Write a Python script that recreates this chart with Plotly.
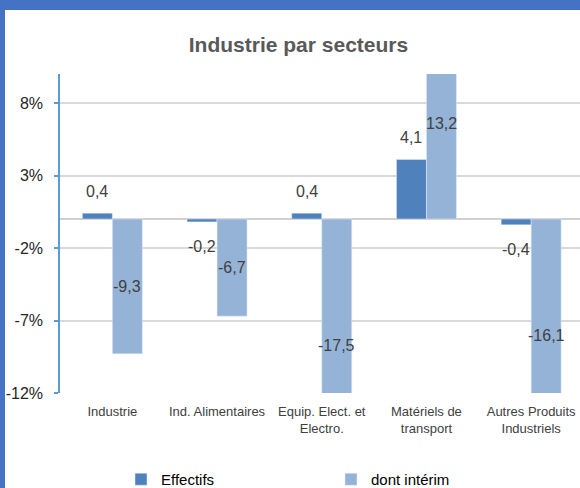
import plotly.graph_objects as go

categories = ["Industrie", "Ind. Alimentaires", "Equip. Elect. et<br>Electro.",
              "Matériels de<br>transport", "Autres Produits<br>Industriels"]
effectifs = [0.4, -0.2, 0.4, 4.1, -0.4]
interim = [-9.3, -6.7, -17.5, 13.2, -16.1]
tick_vals = [-12, -7, -2, 3, 8]
tick_text = ["-12%", "-7%", "-2%", "3%", "8%"]

C_EFF = "#4F81BD"
C_INT = "#95B3D7"
BORDER = "#4472C4"
TXT = "#404040"

W, H = 580, 488
ML, MR, MT, MB = 60, 0, 74, 95
PW, PH = W - ML - MR, H - MT - MB

def px_x(p):
    return (p - ML) / PW

def px_y(p):
    return (H - MB - p) / PH

xs = list(range(len(categories)))
half = 0.1433

fig = go.Figure()
fig.add_trace(go.Bar(x=xs, y=effectifs, name="Effectifs", marker_color=C_EFF))
fig.add_trace(go.Bar(x=xs, y=interim, name="dont intérim", marker_color=C_INT))

def fmt(v):
    return ("%.1f" % v).replace(".", ",")

ann = []
for i, v in enumerate(effectifs):
    ann.append(dict(x=i - half, y=v, xref="x", yref="y", text=fmt(v), showarrow=False,
                    yshift=22 if v >= 0 else -25, font=dict(size=16, color=TXT,
                    family="Liberation Sans, Arial, sans-serif")))
for i, v in enumerate(interim):
    ann.append(dict(x=i + half, y=v / 2, xref="x", yref="y", text=fmt(v), showarrow=False,
                    font=dict(size=16, color=TXT, family="Liberation Sans, Arial, sans-serif")))

shapes = [
    dict(type="rect", xref="paper", yref="paper", x0=px_x(0), x1=px_x(5), y0=px_y(H), y1=px_y(0),
         fillcolor=BORDER, line_width=0, layer="below"),
    dict(type="rect", xref="paper", yref="paper", x0=px_x(0), x1=px_x(W), y0=px_y(10), y1=px_y(0),
         fillcolor=BORDER, line_width=0, layer="below"),
]

fig.update_layout(
    width=W, height=H,
    margin=dict(l=ML, r=MR, t=MT, b=MB, autoexpand=False),
    paper_bgcolor="white", plot_bgcolor="white",
    font=dict(family="Liberation Sans, Arial, sans-serif", color=TXT),
    title=dict(text="<b>Industrie par secteurs</b>", x=298.5 / W, xanchor="center",
               y=1 - 45 / H, yanchor="middle", yref="container",
               font=dict(size=21, color="#595959")),
    barmode="group", bargap=0.427, bargroupgap=0,
    showlegend=True,
    legend=dict(orientation="h", x=px_x(121), xanchor="left", y=px_y(463), yanchor="top",
                entrywidth=165, font=dict(size=15, color="#000000"),
                bgcolor="rgba(0,0,0,0)"),
    annotations=ann, shapes=shapes,
)
fig.update_xaxes(tickvals=xs, ticktext=categories, range=[-0.5, -0.5 + PW / 104.7],
                 showgrid=False, zeroline=False, showline=False, ticks="",
                 tickfont=dict(size=13, color=TXT), ticklabelstandoff=9)
fig.update_yaxes(range=[-12, 10], tickvals=tick_vals, ticktext=tick_text,
                 showgrid=True, gridcolor="#D9D9D9", gridwidth=1.5,
                 zeroline=True, zerolinecolor="#D0D0D0", zerolinewidth=1.5,
                 showline=True, linecolor="#5B9BD5", linewidth=1.5,
                 ticks="outside", ticklen=4, tickcolor="#5B9BD5", tickwidth=1.5,
                 tickfont=dict(size=16, color="#262626"), ticklabelstandoff=8)

fig.write_html("out.html", config={"displayModeBar": False},
               post_script="document.body.style.margin='0';document.body.style.overflow='hidden';")
